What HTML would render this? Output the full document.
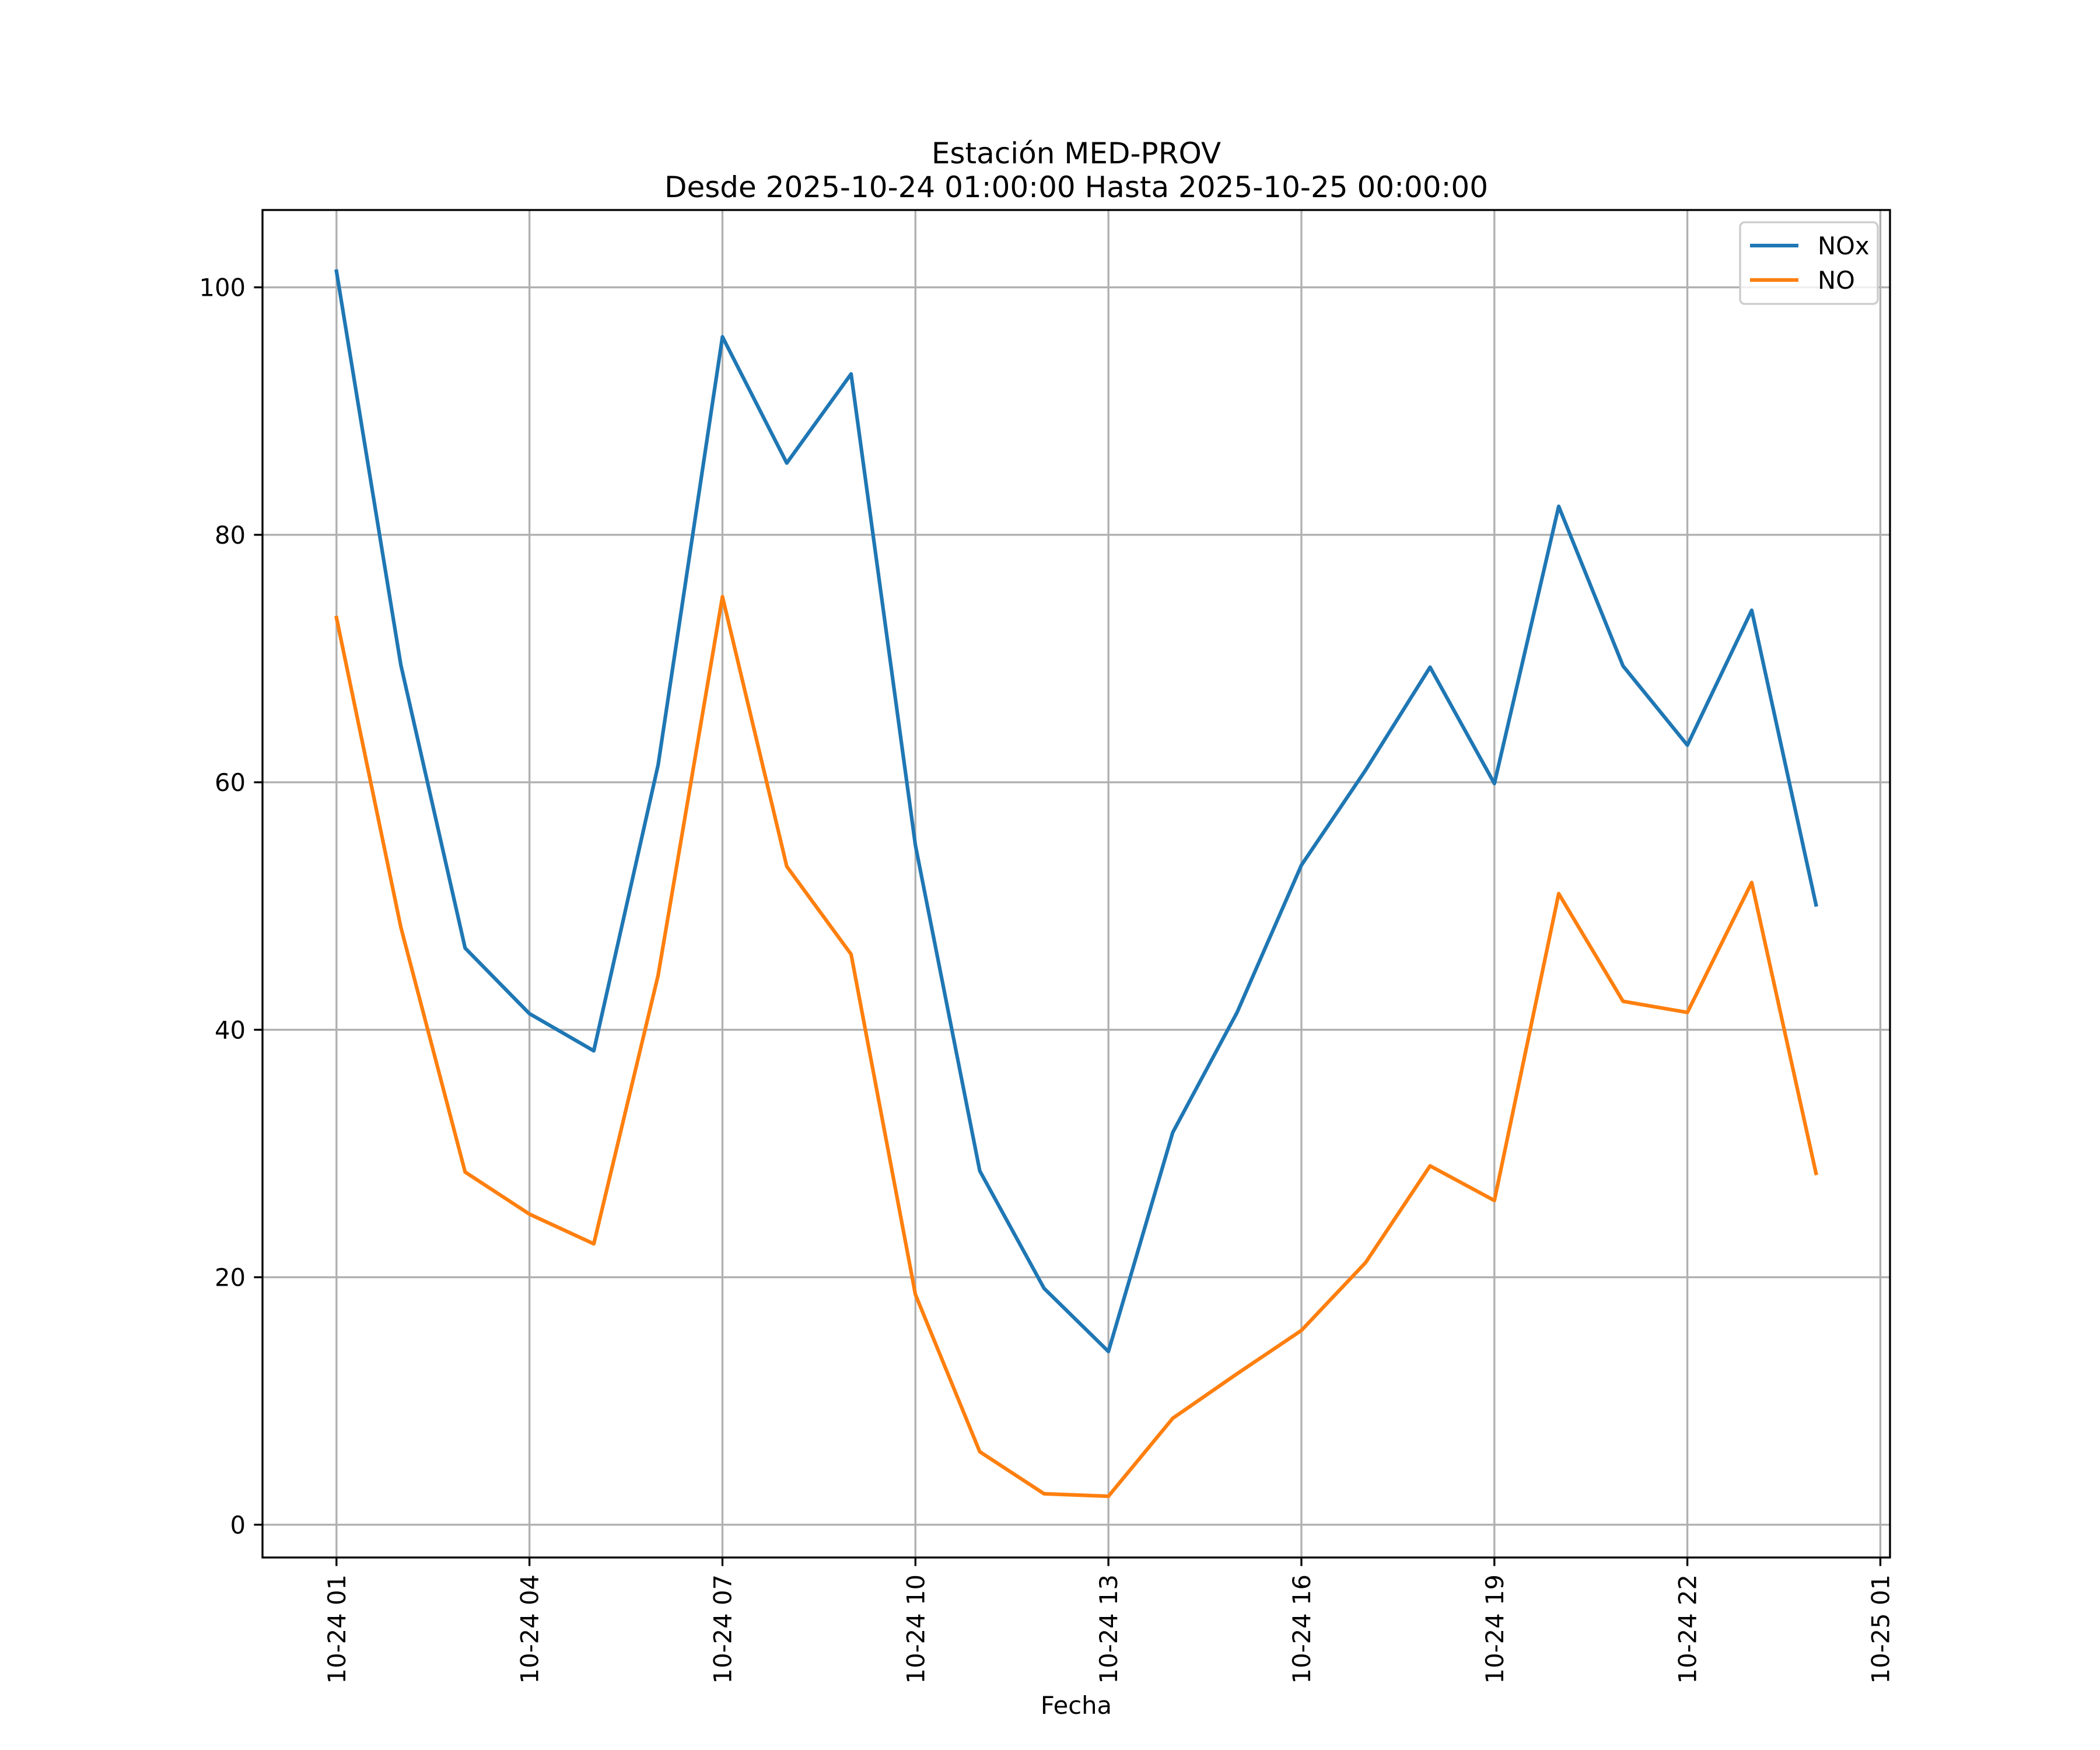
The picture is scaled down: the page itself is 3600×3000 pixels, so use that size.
<!DOCTYPE html>
<html><head><meta charset="utf-8"><style>
html,body{margin:0;padding:0;background:#fff;}
svg{display:block;}
text{font-family:"DejaVu Sans","Liberation Sans",sans-serif;fill:#000;}
</style></head><body>
<svg id="chart" width="3600" height="3000" viewBox="0 0 3600 3000" xmlns="http://www.w3.org/2000/svg">
<rect width="3600" height="3000" fill="#fff"/>
<text x="1845" y="280" font-size="50" text-anchor="middle">Estación MED-PROV</text>
<text x="1845" y="338" font-size="50" text-anchor="middle">Desde 2025-10-24 01:00:00 Hasta 2025-10-25 00:00:00</text>
<g id="grid"></g>
<g id="series"></g>
<rect x="450" y="360" width="2790" height="2310" fill="none" stroke="#000" stroke-width="3.33"/>
<g id="axes"></g>
<text x="1845" y="2938" font-size="41.7" text-anchor="middle">Fecha</text>
<g>
<rect x="2983" y="381" width="236" height="140" rx="8" fill="#fff" fill-opacity="0.8" stroke="#cccccc" stroke-width="3.33"/>
<line x1="3000" y1="421" x2="3083" y2="421" stroke="#1f77b4" stroke-width="6.25"/>
<text x="3116" y="436" font-size="41.7">NOx</text>
<line x1="3000" y1="480" x2="3083" y2="480" stroke="#ff7f0e" stroke-width="6.25"/>
<text x="3116" y="495" font-size="41.7">NO</text>
</g>
</svg>
<script>
const hours = [0,1,2,3,4,5,6,7,8,9,10,11,12,13,14,15,16,17,18,19,20,21,22,23];
const noxValues = [101.3,69.5,46.6,41.3,38.3,61.4,96.0,85.8,93.0,54.9,28.6,19.1,14.0,31.7,41.4,53.3,61.0,69.3,59.9,82.3,69.4,63.0,73.9,50.1];
const noValues = [73.3,48.3,28.5,25.1,22.7,44.4,75.0,53.2,46.1,18.6,5.9,2.5,2.3,8.6,12.2,15.7,21.2,29.0,26.2,51.0,42.3,41.4,51.9,28.4];
const yTicks = [0,20,40,60,80,100];
const xTickHours = [0,3,6,9,12,15,18,21,24];
const xTickLabels = ["10-24 01","10-24 04","10-24 07","10-24 10","10-24 13","10-24 16","10-24 19","10-24 22","10-25 01"];

const NS="http://www.w3.org/2000/svg";
const L=450,R=3240,T=360,B=2670;
const hMin=Math.min(...hours), hMax=Math.max(...hours), hPad=(hMax-hMin)*0.05;
const allV=noxValues.concat(noValues);
const vMin=Math.min(...allV), vMax=Math.max(...allV), vPad=(vMax-vMin)*0.05;
const xs = h => L + (h-(hMin-hPad))*(R-L)/((hMax-hMin)+2*hPad);
const ys = v => B - (v-(vMin-vPad))*(B-T)/((vMax-vMin)+2*vPad);
function mk(tag, attrs, parent){const e=document.createElementNS(NS,tag);for(const k in attrs)e.setAttribute(k,attrs[k]);parent.appendChild(e);return e;}
const grid=document.getElementById('grid'), axes=document.getElementById('axes'), series=document.getElementById('series');

yTicks.forEach(v=>{
  const y=ys(v);
  const g=mk('line',{x1:L,x2:R,y1:y,y2:y,stroke:'#b0b0b0','stroke-width':3.33},grid);
  
  
  const t=mk('line',{x1:L-14.6,x2:L,y1:y,y2:y,stroke:'#000','stroke-width':3.33},axes);
  
  
  const l=mk('text',{x:L-29,y:y+15,'font-size':41.7,'text-anchor':'end'},axes);
  l.textContent=v;
  
  
});
xTickHours.forEach((h,i)=>{
  const x=xs(h);
  const g=mk('line',{x1:x,x2:x,y1:T,y2:B,stroke:'#b0b0b0','stroke-width':3.33},grid);
  
  
  const t=mk('line',{x1:x,x2:x,y1:B,y2:B+14.6,stroke:'#000','stroke-width':3.33},axes);
  
  
  const l=mk('text',{x:0,y:0,'font-size':41.7,'text-anchor':'end',transform:`translate(${x+15},${B+29}) rotate(-90)`},axes);
  l.textContent=xTickLabels[i];
  
  
});
function drawLine(vals,color,name){
  const p=mk('polyline',{points:vals.map((v,i)=>xs(hours[i])+','+ys(v)).join(' '),fill:'none',stroke:color,'stroke-width':6.25,'stroke-linejoin':'round','stroke-linecap':'square'},series);
  
  
}
drawLine(noxValues,'#1f77b4','nox-line');
drawLine(noValues,'#ff7f0e','no-line');
</script>
</body></html>
